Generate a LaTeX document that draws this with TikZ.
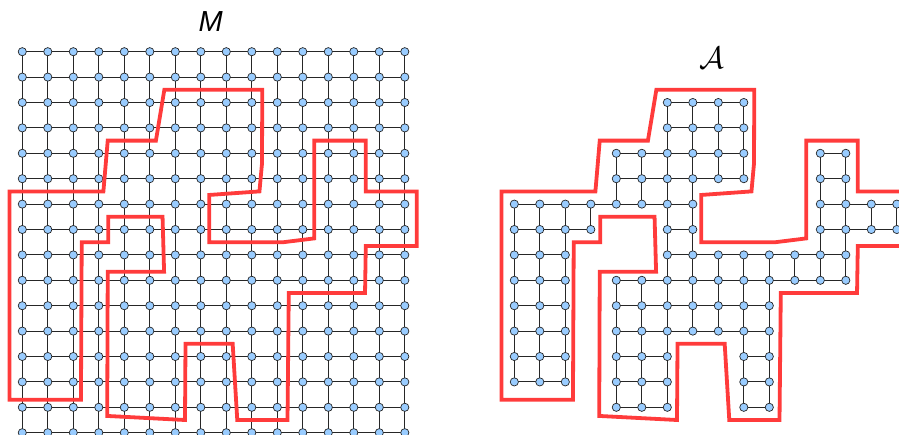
\documentclass[tikz,border=0pt]{standalone}
\usepackage{fix-cm}
\usepackage{fontspec}
\newfontfamily\labelfont{Liberation Sans}
\definecolor{cnode}{HTML}{99CCFF}
\definecolor{cborder}{HTML}{FF3B3B}

% outline of the region A, in grid units
\newcommand\regionpath{(5.57,1.5) -- (9.41,1.5) -- (9.4,4.4) -- (9.3,5.5) -- (7.33,5.64)
  -- (7.33,7.5) -- (10.24,7.5) -- (11.45,7.35) -- (11.45,3.5) -- (13.47,3.5)
  -- (13.47,5.5) -- (15.47,5.5) -- (15.47,7.65) -- (13.47,7.65) -- (13.44,9.5)
  -- (10.45,9.5) -- (10.4,14.5) -- (8.43,14.5) -- (8.25,11.5) -- (6.4,11.5)
  -- (6.38,14.5) -- (3.33,14.34) -- (3.35,8.66) -- (5.56,8.66) -- (5.5,6.5)
  -- (3.37,6.5) -- (3.37,7.5) -- (2.33,7.5) -- (2.3,13.7) -- (-0.5,13.7)
  -- (-0.5,5.5) -- (3.18,5.5) -- (3.35,3.5) -- (5.24,3.5) -- cycle}

\begin{document}
\begin{tikzpicture}[x=25.5pt, y=-25.4pt,
  vert/.style={circle, draw=black!85, fill=cnode, inner sep=0pt,
               minimum size=8.2pt, line width=0.7pt},
  gridline/.style={draw=black!85, line width=0.9pt},
  border/.style={draw=cborder, line width=3.8pt}
]
  \useasboundingbox (-0.8745,-2.0354) rectangle (34.38,15.09);

  % the grid M
  \node (mlabel) at (7.39,-1.18) {\fontsize{29}{29}\selectfont\labelfont\itshape M};
  \foreach \i in {0,...,15}
    \foreach \j in {0,...,15}
      \coordinate (m-\i-\j) at (\i,\j);
  \foreach \i in {0,...,14} {
    \pgfmathtruncatemacro\nx{\i+1}
    \foreach \j in {0,...,15} {
      \draw[gridline] (m-\i-\j) -- (m-\nx-\j);
      \draw[gridline] (m-\j-\i) -- (m-\j-\nx);
    }
  }
  \foreach \i in {0,...,15}
    \foreach \j in {0,...,15}
      \node[vert] (mv-\i-\j) at (m-\i-\j) {};
  \draw[border] \regionpath;

  % the subgraph A
  \begin{scope}[xshift=492pt]
    \node (alabel) at (7.75,0.23) {\fontsize{31}{31}\selectfont$\mathcal{A}$};
    \foreach \j/\a/\b in {2/6/9, 3/6/9, 4/4/9, 4/12/13, 5/4/9, 5/12/13,
        6/0/7, 6/12/15, 7/0/3, 7/6/7, 7/12/15, 8/0/2, 8/6/13,
        9/0/2, 9/4/13, 10/0/2, 10/4/10, 11/0/2, 11/4/10,
        12/0/2, 12/4/6, 12/9/10, 13/0/2, 13/4/6, 13/9/10, 14/4/6, 14/9/10}
      \foreach \i in {\a,...,\b}
        \coordinate (a-\i-\j) at (\i,\j);
    \foreach \i in {0,...,14} {
      \pgfmathtruncatemacro\nx{\i+1}
      \foreach \j in {0,...,15} {
        \ifcsname pgf@sh@ns@a-\i-\j\endcsname
          \ifcsname pgf@sh@ns@a-\nx-\j\endcsname
            \draw[gridline] (a-\i-\j) -- (a-\nx-\j);
          \fi
        \fi
        \ifcsname pgf@sh@ns@a-\j-\i\endcsname
          \ifcsname pgf@sh@ns@a-\j-\nx\endcsname
            \draw[gridline] (a-\j-\i) -- (a-\j-\nx);
          \fi
        \fi
      }
    }
    \foreach \j/\a/\b in {2/6/9, 3/6/9, 4/4/9, 4/12/13, 5/4/9, 5/12/13,
        6/0/7, 6/12/15, 7/0/3, 7/6/7, 7/12/15, 8/0/2, 8/6/13,
        9/0/2, 9/4/13, 10/0/2, 10/4/10, 11/0/2, 11/4/10,
        12/0/2, 12/4/6, 12/9/10, 13/0/2, 13/4/6, 13/9/10, 14/4/6, 14/9/10}
      \foreach \i in {\a,...,\b}
        \node[vert] (av-\i-\j) at (a-\i-\j) {};
    \draw[border] \regionpath;
  \end{scope}
\end{tikzpicture}
\end{document}
